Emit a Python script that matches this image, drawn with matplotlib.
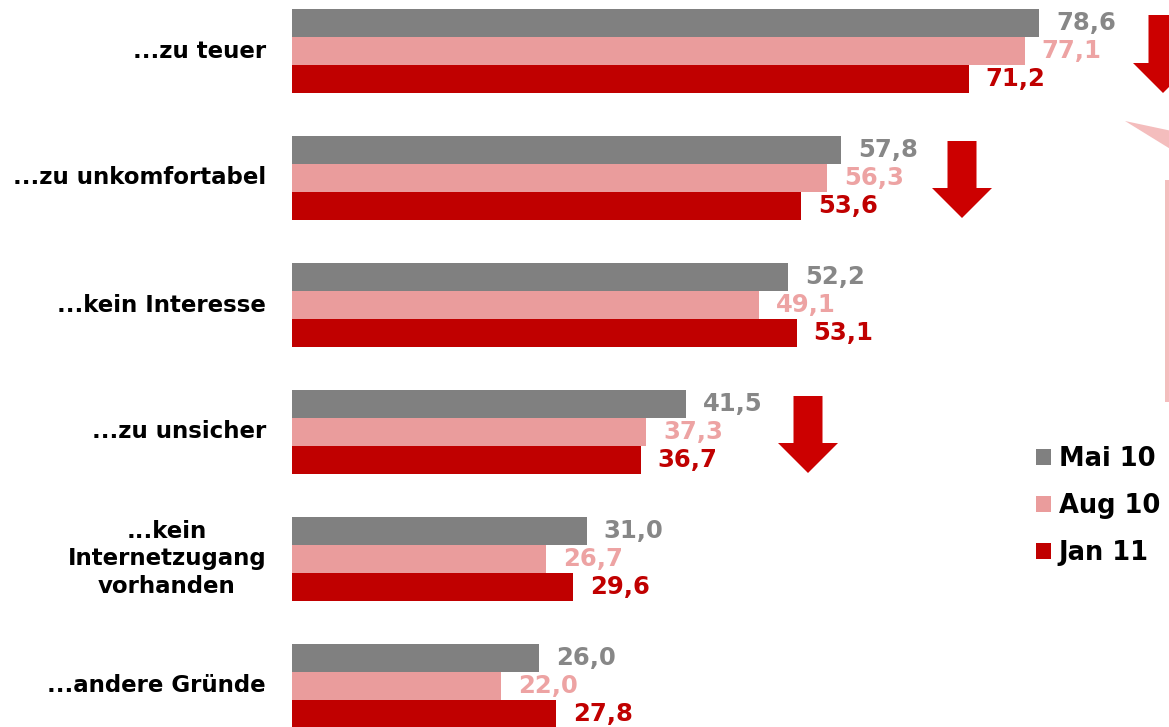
import matplotlib
matplotlib.use("Agg")
import matplotlib.pyplot as plt
from matplotlib.patches import Patch, Polygon
import numpy as np

plt.rcParams['font.family'] = ['DejaVu Sans']

categories = ["...zu teuer", "...zu unkomfortabel", "...kein Interesse", "...zu unsicher",
              "...kein\nInternetzugang\nvorhanden", "...andere Gründe"]
series_names = ["Mai 10", "Aug 10", "Jan 11"]
mai10 = [78.6, 57.8, 52.2, 41.5, 31.0, 26.0]
aug10 = [77.1, 56.3, 49.1, 37.3, 26.7, 22.0]
jan11 = [71.2, 53.6, 53.1, 36.7, 29.6, 27.8]

bar_colors = ["#808080", "#EA9C9C", "#C00000"]
label_colors = ["#878787", "#EDA3A3", "#C00000"]
arrow_color = "#CC0000"

W, H = 1169, 727
fig = plt.figure(figsize=(W / 100, H / 100), dpi=100)
ax = fig.add_axes([0, 0, 1, 1])
scale = 9.504  # px per unit
x0 = 292
ax.set_xlim(-x0 / scale, (W - x0) / scale)
ax.set_ylim(H, 0)
ax.axis("off")

group_pitch = 127
first_center = 51
bar_h = 28
centers = first_center + group_pitch * np.arange(len(categories))

for si, vals in enumerate([mai10, aug10, jan11]):
    ys = centers + (si - 1) * bar_h
    ax.barh(ys, vals, height=bar_h, color=bar_colors[si], linewidth=0)
    for y, v in zip(ys, vals):
        ax.annotate(f"{v:.1f}".replace(".", ","), (v, y), xytext=(17, 0),
                    textcoords="offset pixels", ha="left", va="center",
                    fontsize=17.5, fontweight="bold", color=label_colors[si])

for c, cat in zip(centers, categories):
    ax.annotate(cat, (0, c), xytext=(-26, 0), textcoords="offset pixels",
                ha="right", va="center", multialignment="center",
                fontsize=16.5, fontweight="bold", color="black", linespacing=1.25)

# overlay for decorations in pixel space
ov = fig.add_axes([0, 0, 1, 1], facecolor="none")
ov.set_xlim(0, W)
ov.set_ylim(H, 0)
ov.axis("off")

def down_arrow(cx, top, bottom, shaft_w=29, head_w=60, head_h=30):
    pts = [(cx - shaft_w / 2, top), (cx + shaft_w / 2, top), (cx + shaft_w / 2, bottom - head_h),
           (cx + head_w / 2, bottom - head_h), (cx, bottom), (cx - head_w / 2, bottom - head_h),
           (cx - shaft_w / 2, bottom - head_h)]
    ov.add_patch(Polygon(pts, closed=True, color=arrow_color, lw=0))

down_arrow(1163, 15, 93)
down_arrow(962, 141, 218)
down_arrow(808, 396, 473)

# partially visible callout
ov.add_patch(Polygon([(1125, 121), (1172, 131), (1172, 150)], closed=True, color="#F4BDBD", lw=0))
ov.add_patch(Polygon([(1165, 180), (1172, 180), (1172, 402), (1165, 402)], closed=True,
                     color="#F4BDBD", lw=0))

handles = [Patch(facecolor=c, edgecolor="none") for c in bar_colors]
ax.legend(handles, series_names, loc="upper left",
          bbox_to_anchor=(1036 / W, 1 - 446 / H), bbox_transform=fig.transFigure,
          frameon=False, prop={"weight": "bold", "size": 18.5},
          handlelength=0.58, handleheight=0.58, handletextpad=0.3,
          labelspacing=0.82, borderpad=0, borderaxespad=0)

fig.savefig("out.png", dpi=100)
